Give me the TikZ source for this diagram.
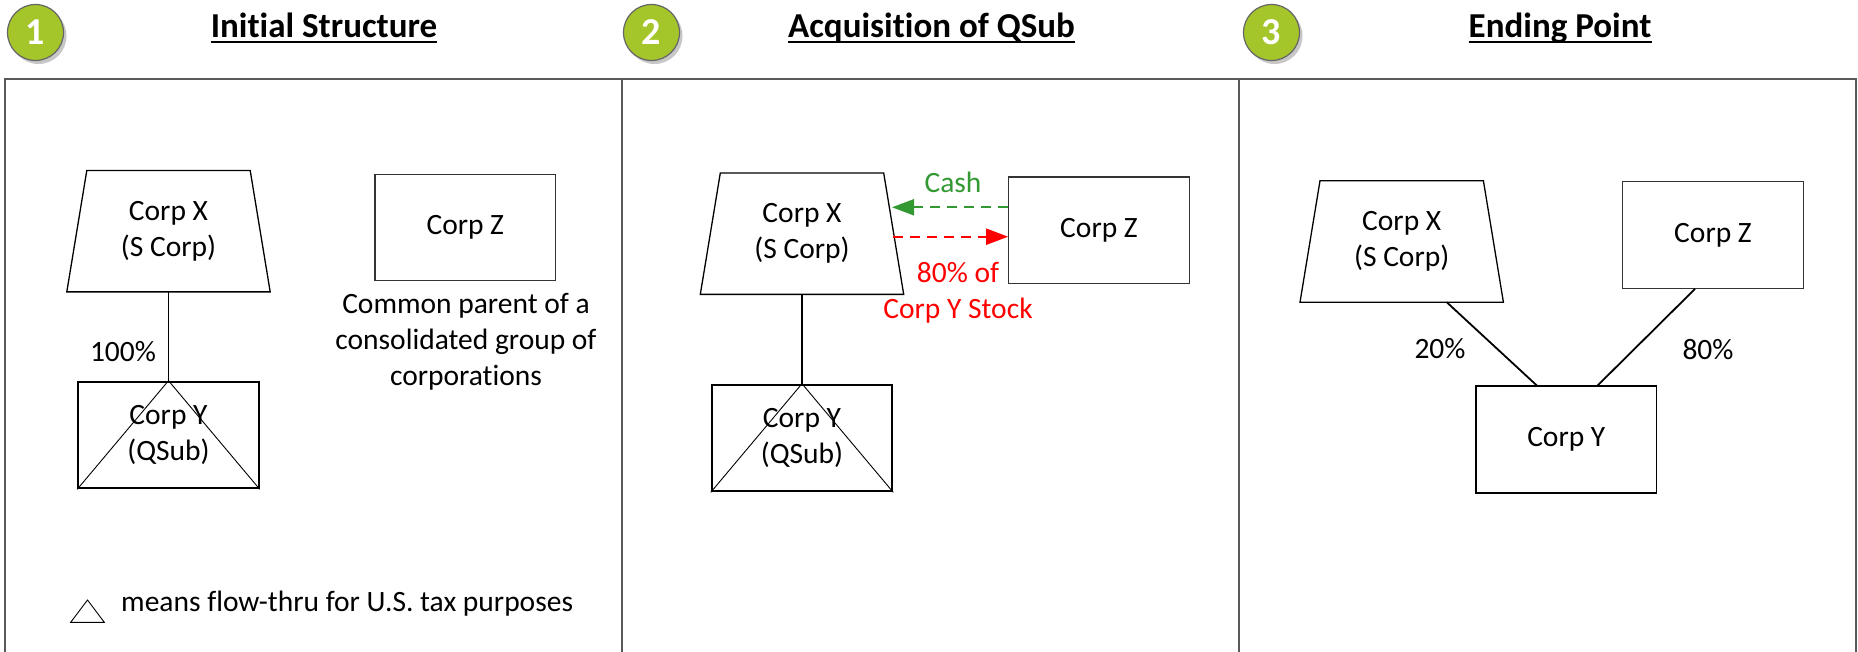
\documentclass[tikz,border=0pt]{standalone}
\usepackage{fontspec}
\setmainfont{Carlito}[Ligatures=NoCommon]
\usetikzlibrary{arrows.meta,calc}
\definecolor{framegray}{HTML}{595959}
\definecolor{badgegreen}{HTML}{A5C62B}
\definecolor{cashgreen}{HTML}{339933}
\definecolor{stockred}{HTML}{FF0000}
\tikzset{
  body/.style={font=\fontsize{29.5}{36}\selectfont, align=center, inner sep=0pt},
  corpbox/.style={body, draw=black, line width=1.3pt, minimum width=180.5pt, minimum height=106.6pt},
  qsubbox/.style={corpbox, line width=2pt},
  trapbody/.style={body, minimum width=203pt, minimum height=121pt},
  trapline/.style={draw=black, line width=1.3pt, line join=miter},
  link/.style={draw=black, line width=1.8pt},
  thinline/.style={draw=black, line width=0.9pt},
  frameline/.style={draw=framegray, line width=2.4pt},
  title/.style={font=\fontsize{35}{42}\selectfont\bfseries, inner sep=0pt, anchor=base},
  uline/.style={line width=2pt},
  badge/.style={circle, fill=badgegreen, draw=black!60, line width=1.2pt, minimum size=56pt, inner sep=0pt, text=white, font=\fontsize{38}{42}\selectfont\bfseries},
  badgeshadow/.style={circle, fill=black!22, minimum size=56pt, inner sep=0pt},
  flowarrow/.style={line width=2pt, dash pattern=on 10pt off 7pt, -{Triangle[length=22pt,width=16pt]}},
}
\begin{document}
\begin{tikzpicture}[x=1pt,y=-1pt]
\useasboundingbox (0,0) rectangle (1858,652);
\fill[white] (0,0) rectangle (1858,652);

% frame
\draw[frameline] (5,653) -- (5,79) -- (1856,79) -- (1856,653);
\draw[frameline] (622,79) -- (622,653);
\draw[frameline] (1239,79) -- (1239,653);

% badges
\node[badgeshadow] (b1s) at (38.5,36) {};
\node[badge] (b1) at (35.5,32.5) {1};
\node[badgeshadow] (b2s) at (654.5,36) {};
\node[badge] (b2) at (651.5,32.5) {2};
\node[badgeshadow] (b3s) at (1274.5,36) {};
\node[badge] (b3) at (1271.5,32.5) {3};

% titles
\node[title] (t1) at (324,37.3) {Initial Structure};
\draw[uline] ([yshift=-4.5pt]t1.base west) -- ([yshift=-4.5pt]t1.base east);
\node[title] (t2) at (931.5,37.3) {Acquisition of QSub};
\draw[uline] ([yshift=-4.5pt]t2.base west) -- ([yshift=-4.5pt]t2.base east);
\node[title] (t3) at (1560,37.3) {Ending Point};
\draw[uline] ([yshift=-4.5pt]t3.base west) -- ([yshift=-4.5pt]t3.base east);

% ---------- panel 1 ----------
\node[trapbody] (x1) at (168.5,231.2) {Corp X\\(S Corp)};
\draw[trapline] ($(x1.north west)+(20,0)$) -- ($(x1.north east)+(-20,0)$) -- (x1.south east) -- (x1.south west) -- cycle;
\node[qsubbox] (y1) at (168.5,435) {Corp Y\\(QSub)};
\draw[thinline] (y1.south west) -- (y1.north) -- (y1.south east);
\draw[link] (x1.south) -- (y1.north);
\node[body] (p100) at (123,352) {100\%};
\node[corpbox, draw=black!80, line width=1.2pt] (z1) at (465.3,227.5) {Corp Z};
\node[body] (note1) at (466,342) {Common parent of a\\consolidated group of\\corporations};
\draw[thinline] (70.7,622.3) -- (104.3,622.3) -- (87.5,600) -- cycle;
\node[body, anchor=base west] (legend) at (121,611.7) {means flow-thru for U.S. tax purposes};

% ---------- panel 2 ----------
\node[trapbody] (x2) at (802,233.7) {Corp X\\(S Corp)};
\draw[trapline] ($(x2.north west)+(20,0)$) -- ($(x2.north east)+(-20,0)$) -- (x2.south east) -- (x2.south west) -- cycle;
\node[qsubbox] (y2) at (802,438) {Corp Y\\(QSub)};
\draw[thinline] (y2.south west) -- (y2.north) -- (y2.south east);
\draw[link] (x2.south) -- (y2.north);
\node[corpbox, draw=black!80, line width=1.2pt] (z2) at (1099,230.3) {Corp Z};
\coordinate (cashend) at (892,207.3);
\draw[flowarrow, draw=cashgreen] (z2.west |- cashend) -- (cashend);
\coordinate (stockstart) at (893,236.7);
\draw[flowarrow, draw=stockred] (stockstart) -- (z2.west |- stockstart);
\node[body, text=cashgreen] (cash) at (953,182) {Cash};
\node[body, text=stockred] (stock) at (958,293) {80\% of\\Corp Y Stock};

% ---------- panel 3 ----------
\node[trapbody] (x3) at (1401.7,241.5) {Corp X\\(S Corp)};
\draw[trapline] ($(x3.north west)+(20,0)$) -- ($(x3.north east)+(-20,0)$) -- (x3.south east) -- (x3.south west) -- cycle;
\node[corpbox, draw=black!80, line width=1.2pt] (z3) at (1713,235) {Corp Z};
\node[corpbox, line width=1.8pt] (y3) at (1566.3,439.6) {Corp Y};
\draw[link] ([xshift=45pt]x3.south) -- ([xshift=-29.6pt]y3.north);
\draw[link] ([xshift=-18pt]z3.south) -- ([xshift=31.4pt]y3.north);
\node[body] (p20) at (1440,348.3) {20\%};
\node[body] (p80) at (1708,349.3) {80\%};
\end{tikzpicture}
\end{document}
